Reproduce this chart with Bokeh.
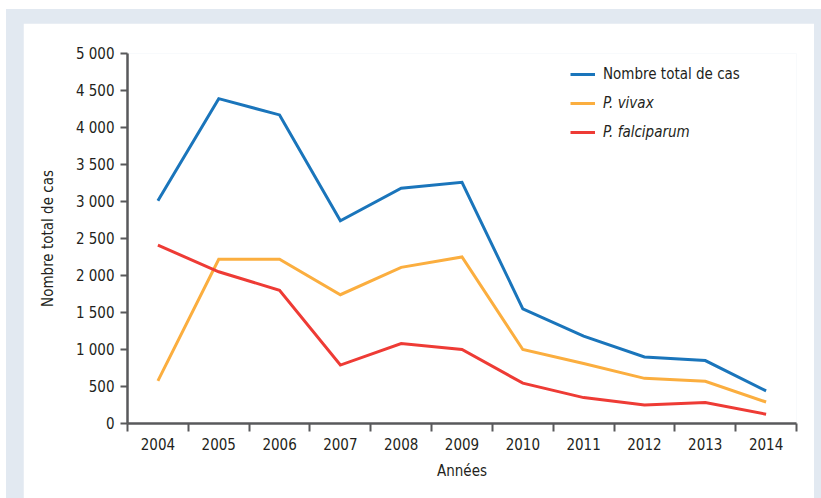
from bokeh.plotting import figure
from bokeh.models import FixedTicker, Legend, LegendItem, Range1d
from bokeh.layouts import column
from bokeh.embed import file_html
from bokeh.resources import INLINE

years = ["2004", "2005", "2006", "2007", "2008", "2009", "2010", "2011", "2012", "2013", "2014"]
total = [3010, 4390, 4170, 2740, 3180, 3260, 1550, 1180, 900, 850, 440]
vivax = [575, 2220, 2220, 1740, 2110, 2250, 1000, 810, 610, 570, 290]
falciparum = [2410, 2050, 1800, 790, 1080, 1000, 545, 350, 250, 285, 125]
y_ticks = [0, 500, 1000, 1500, 2000, 2500, 3000, 3500, 4000, 4500, 5000]
y_tick_labels = ["0", "500", "1 000", "1 500", "2 000", "2 500", "3 000", "3 500", "4 000", "4 500", "5 000"]

FONT = "DejaVu Sans Condensed"
FS = "15px"
TXT = "#231f20"
AX = "#58595b"

xs = list(range(len(years)))

p = figure(width=791, height=475, output_backend="svg", toolbar_location=None,
           x_range=Range1d(-0.5, len(years) - 0.5), y_range=Range1d(0, 5000),
           min_border_left=104, min_border_right=18, min_border_top=30, min_border_bottom=75)
p.outline_line_color = None
p.background_fill_color = "white"
p.border_fill_color = "white"
p.xgrid.visible = False
p.ygrid.visible = False

r_total = p.line(xs, total, line_color="#1a75bb", line_width=3, line_join="miter")
r_vivax = p.line(xs, vivax, line_color="#fbae3f", line_width=3, line_join="miter")
r_falc = p.line(xs, falciparum, line_color="#ee3b35", line_width=3, line_join="miter")

# x axis
xa = p.xaxis[0]
xa.ticker = FixedTicker(ticks=xs, minor_ticks=[i - 0.5 for i in range(len(years) + 1)])
xa.major_label_overrides = {i: y for i, y in enumerate(years)}
xa.major_tick_line_color = None
xa.major_tick_out = 0
xa.major_tick_in = 0
xa.minor_tick_line_color = AX
xa.minor_tick_line_width = 2
xa.minor_tick_out = 8
xa.minor_tick_in = 0
xa.axis_line_color = AX
xa.axis_line_width = 2.5
xa.major_label_standoff = 6
xa.major_label_text_font = FONT
xa.major_label_text_font_size = FS
xa.major_label_text_color = TXT
xa.axis_label = "Années"
xa.axis_label_text_font = FONT
xa.axis_label_text_font_size = FS
xa.axis_label_text_font_style = "normal"
xa.axis_label_text_color = TXT
xa.axis_label_standoff = 9

# y axis
ya = p.yaxis[0]
ya.ticker = FixedTicker(ticks=y_ticks, minor_ticks=[])
ya.major_label_overrides = {t: l for t, l in zip(y_ticks, y_tick_labels)}
ya.major_tick_line_color = AX
ya.major_tick_line_width = 2
ya.major_tick_out = 7
ya.major_tick_in = 0
ya.axis_line_color = AX
ya.axis_line_width = 2.5
ya.major_label_standoff = 6
ya.major_label_text_font = FONT
ya.major_label_text_font_size = FS
ya.major_label_text_color = TXT
ya.axis_label = "Nombre total de cas"
ya.axis_label_text_font = FONT
ya.axis_label_text_font_size = FS
ya.axis_label_text_font_style = "normal"
ya.axis_label_text_color = TXT
ya.axis_label_standoff = 16

def make_legend(items, loc, style):
    lg = Legend(items=items, location=loc, orientation="vertical")
    lg.padding = 0
    lg.margin = 0
    lg.border_line_color = None
    lg.background_fill_alpha = 0
    lg.glyph_width = 25
    lg.glyph_height = 20
    lg.spacing = 9
    lg.label_standoff = 8
    lg.label_text_font = FONT
    lg.label_text_font_size = FS
    lg.label_text_font_style = style
    lg.label_text_color = TXT
    lg.label_height = 20
    return lg

leg1 = make_legend([LegendItem(label="Nombre total de cas", renderers=[r_total])], (443, 339), "normal")
leg2 = make_legend([LegendItem(label="P. vivax", renderers=[r_vivax]),
                    LegendItem(label="P. falciparum", renderers=[r_falc])], (443, 281), "italic")
p.add_layout(leg1, "center")
p.add_layout(leg2, "center")

layout = column(p, styles={"background-color": "#e2e9f1", "padding": "14px 7px 0px 17px",
                           "margin-left": "6px", "margin-top": "9px"})

open("out.html", "w").write(file_html(layout, INLINE))
